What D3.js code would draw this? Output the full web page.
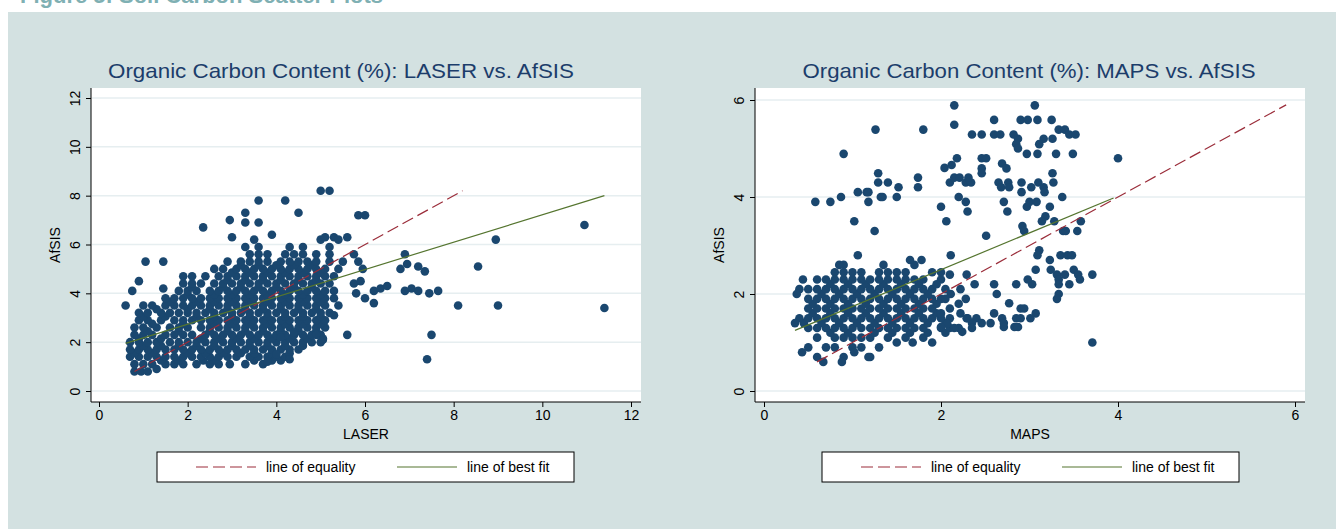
<!DOCTYPE html><html><head><meta charset="utf-8">
<script src="https://cdn.jsdelivr.net/npm/d3@7"></script>
<style>body{margin:0;background:#fff}svg{display:block;font-family:"Liberation Sans",Arial,sans-serif}</style></head><body>
<svg id="c" width="1336" height="529"></svg>
<script>
// ---- data ----
const leftTitle = "Organic Carbon Content (%): LASER vs. AfSIS";
const rightTitle = "Organic Carbon Content (%): MAPS vs. AfSIS";
const leftXTicks = [0,2,4,6,8,10,12];
const leftYTicks = [0,2,4,6,8,10,12];
const rightXTicks = [0,2,4,6];
const rightYTicks = [0,2,4,6];
// dense cluster rows: [AfSIS value, LASER values]
const leftRows = [
 [0.8,[0.8,0.95,1.1]],
 [1.1,[0.8,1.0,1.2,1.5,1.7,1.9,2.2,2.5,2.7,2.95,3.3,3.7]],
 [1.25,[1.4,1.8,2.35,2.6,3.5,3.9,4.1]],
 [1.4,[0.7,0.9,1.1,1.3,1.5,1.7,1.9,2.1,2.3,2.5,2.7,2.9,3.1,3.4,3.6,3.8,4.0,4.2]],
 [1.55,[0.8,1.2,2.0,2.4,2.8,3.2,3.5,3.9,4.3]],
 [1.7,[0.7,0.9,1.1,1.3,1.5,1.7,1.9,2.1,2.3,2.5,2.7,2.9,3.1,3.3,3.5,3.7,3.9,4.1,4.3,4.5]],
 [1.85,[1.0,1.4,1.8,2.2,2.6,3.0,3.4,3.8,4.2,4.6]],
 [2.0,[0.7,0.9,1.1,1.3,1.6,1.8,2.0,2.2,2.4,2.6,2.8,3.0,3.2,3.4,3.6,3.8,4.0,4.2,4.4,4.6,4.8,5.0]],
 [2.15,[0.9,1.4,2.3,2.7,3.1,3.5,3.9,4.3,4.7,5.05]],
 [2.3,[0.8,1.0,1.2,1.5,1.7,1.9,2.1,2.4,2.6,2.8,3.0,3.2,3.4,3.6,3.8,4.0,4.2,4.4,4.6,4.8,5.0]],
 [2.45,[1.1,1.8,2.5,2.9,3.3,3.7,4.1,4.5,4.9]],
 [2.6,[0.8,1.0,1.3,1.6,1.8,2.0,2.3,2.5,2.7,2.9,3.1,3.3,3.5,3.7,3.9,4.1,4.3,4.5,4.7,4.9,5.1]],
 [2.75,[1.2,1.9,2.6,3.0,3.4,3.8,4.2,4.6,5.0]],
 [2.9,[0.9,1.1,1.4,1.7,1.9,2.1,2.3,2.5,2.7,2.9,3.1,3.3,3.5,3.7,3.9,4.1,4.3,4.5,4.7,4.9,5.1]],
 [3.05,[1.0,1.5,2.2,2.6,3.0,3.4,3.8,4.2,4.6,5.0]],
 [3.2,[0.9,1.1,1.4,1.6,1.8,2.0,2.2,2.4,2.6,2.8,3.0,3.2,3.4,3.6,3.8,4.0,4.2,4.4,4.6,4.8,5.0,5.2]],
 [3.35,[1.3,2.0,2.5,2.9,3.3,3.7,4.1,4.5,4.9]],
 [3.5,[1.0,1.2,1.5,1.7,1.9,2.1,2.3,2.5,2.7,2.9,3.1,3.3,3.5,3.7,3.9,4.1,4.3,4.5,4.7,4.9,5.1,5.4]],
 [3.65,[1.6,2.2,2.6,3.0,3.4,3.8,4.2,4.6,5.0]],
 [3.8,[1.5,1.7,1.9,2.1,2.3,2.5,2.7,2.9,3.1,3.3,3.5,3.7,3.9,4.1,4.3,4.5,4.7,4.9,5.1,5.3]],
 [3.95,[2.0,2.6,3.0,3.4,3.8,4.2,4.6,5.0]],
 [4.1,[1.8,2.0,2.2,2.5,2.7,2.9,3.1,3.3,3.5,3.7,3.9,4.1,4.3,4.5,4.7,4.9,5.1,5.3]],
 [4.25,[2.1,2.8,3.2,3.6,4.0,4.4,4.8]],
 [4.4,[1.9,2.1,2.3,2.6,2.8,3.0,3.2,3.4,3.6,3.8,4.0,4.2,4.4,4.6,4.8,5.0,5.2]],
 [4.55,[2.9,3.3,3.7,4.1,4.5,4.9]],
 [4.7,[1.9,2.1,2.4,2.7,2.9,3.1,3.3,3.5,3.7,3.9,4.1,4.3,4.5,4.7,4.9,5.1,5.3]],
 [4.85,[3.0,3.4,3.8,4.2,4.6,5.0]],
 [5.0,[2.6,2.8,3.1,3.3,3.5,3.7,3.9,4.1,4.3,4.5,4.7,4.9,5.1,5.4]],
 [5.15,[3.2,3.6,4.0,4.4,4.8]],
 [5.3,[2.9,3.2,3.4,3.6,3.8,4.1,4.3,4.5,4.7,4.9,5.2,5.5]],
 [5.6,[3.4,3.6,3.8,4.2,4.4,4.6,4.9,5.2]],
 [5.9,[3.3,3.6,4.3,4.6,5.2]]
];
const leftOutliers = [[0.6,3.5],[0.75,4.1],[0.9,4.5],[1.05,5.3],[1.45,5.3],[1.45,4.2],[2.35,6.7],[2.95,7.0],[3.0,6.3],[3.3,7.3],[3.3,6.9],[3.6,7.8],[3.6,6.9],[3.5,6.2],[3.9,6.4],[4.2,7.8],[4.5,7.3],[5.0,8.2],[5.2,8.2],[5.85,7.2],[6.0,7.2],[5.0,6.2],[5.1,6.3],[5.3,6.3],[5.6,6.3],[5.4,6.2],[5.75,5.6],[5.85,5.3],[5.95,5.0],[5.75,4.4],[5.9,4.5],[5.8,4.0],[6.0,3.8],[6.2,3.6],[6.2,4.1],[6.35,4.2],[6.5,4.3],[5.6,2.3],[5.3,3.1],[6.9,5.6],[6.95,5.2],[6.8,5.0],[7.2,5.1],[7.35,4.9],[6.9,4.1],[7.05,4.2],[7.2,4.1],[7.45,4.0],[7.65,4.1],[7.4,1.3],[7.5,2.3],[8.1,3.5],[8.55,5.1],[8.95,6.2],[9.0,3.5],[10.95,6.8],[11.4,3.4],[4.3,1.3],[1.3,0.9],[4.4,2.4],[4.9,2.3],[5.05,2.1],[4.1,2.2],[3.8,1.2],[4.0,1.5]];
const leftEquality = [[0.8,0.8],[8.2,8.2]];
const leftBestFit = [[0.6,1.95],[11.4,8.0]];
// dense cluster rows: [AfSIS value, MAPS values]
const rightRows = [
 [0.7,[0.6,0.9,1.2]],
 [0.9,[0.5,0.7,0.8,1.0,1.1,1.3]],
 [1.1,[0.6,0.8,0.9,1.0,1.1,1.2,1.4,1.6,1.8]],
 [1.2,[0.75,0.95,1.25,1.45,1.65,1.85,2.05]],
 [1.3,[0.5,0.6,0.7,0.8,0.9,1.0,1.1,1.2,1.3,1.4,1.5,1.6,1.7,1.8,2.0,2.1,2.2]],
 [1.4,[0.45,0.65,0.85,1.05,1.25,1.45,1.65,1.85,2.05]],
 [1.5,[0.4,0.5,0.6,0.7,0.8,0.9,1.0,1.1,1.2,1.3,1.4,1.5,1.6,1.7,1.8,1.9,2.0,2.1,2.3,2.4]],
 [1.6,[0.55,0.75,0.95,1.15,1.35,1.55,1.75,1.95]],
 [1.7,[0.5,0.6,0.7,0.8,0.9,1.0,1.1,1.2,1.3,1.4,1.5,1.6,1.7,1.8,1.9,2.1]],
 [1.8,[0.55,0.75,0.95,1.15,1.35,1.55,1.75,1.95]],
 [1.9,[0.5,0.6,0.7,0.8,0.9,1.0,1.1,1.2,1.3,1.4,1.5,1.6,1.7,1.8,1.9,2.0]],
 [2.0,[0.65,0.85,1.05,1.25,1.45,1.65,1.85]],
 [2.1,[0.4,0.5,0.6,0.7,0.8,0.9,1.0,1.1,1.2,1.3,1.4,1.5,1.6,1.7,1.8,1.9]],
 [2.2,[0.75,0.95,1.15,1.35,1.55,1.75]],
 [2.3,[0.6,0.7,0.8,0.9,1.0,1.1,1.2,1.3,1.4,1.5,1.6,1.7,1.8,2.0]],
 [2.45,[0.8,0.9,1.0,1.1,1.3,1.4,1.5,1.6,1.9]],
 [2.6,[0.85,0.9,1.35,1.7]]
];
const rightOutliers = [[2.15,5.89],[3.06,5.89],[1.26,5.39],[1.80,5.39],[2.15,5.49],[2.60,5.59],[2.90,5.59],[2.98,5.59],[3.09,5.59],[3.25,5.59],[2.35,5.29],[2.46,5.29],[2.60,5.29],[2.67,5.29],[2.82,5.29],[2.87,5.2],[2.85,5.09],[2.87,5.0],[2.97,4.89],[3.09,4.89],[3.30,4.89],[3.49,4.89],[3.16,5.2],[3.26,5.2],[3.33,5.39],[3.40,5.39],[3.45,5.29],[3.52,5.29],[3.11,5.09],[0.9,4.89],[4.0,4.8],
 [2.04,4.6],[2.12,4.66],[2.18,4.8],[2.46,4.8],[2.51,4.8],[2.46,4.59],[2.46,4.49],[2.69,4.69],[2.74,4.59],[2.10,4.3],[2.15,4.4],[2.21,4.4],[2.28,4.3],[2.34,4.3],[2.31,4.4],[2.65,4.3],[2.68,4.2],[2.76,4.3],[2.77,4.2],[2.91,4.3],[3.02,4.2],[3.1,4.3],[3.16,4.2],[3.17,4.1],[3.26,4.49],[3.27,4.3],[1.29,4.49],[1.29,4.3],[1.40,4.3],[1.52,4.2],[1.74,4.4],[1.74,4.2],[1.06,4.1],[1.16,4.1],[1.18,4.1],[1.18,3.9],[1.32,4.0],[1.34,4.0],[1.50,4.0],[0.87,4.0],[0.75,3.9],[0.58,3.9],[1.02,3.5],[1.25,3.3],[2.0,3.8],[2.06,3.5],[2.20,4.0],[2.28,3.9],[2.3,3.7],[2.51,3.2],[2.71,3.9],[2.75,3.7],[2.91,4.1],[2.97,3.8],[3.0,3.9],[3.08,3.9],[3.23,3.8],[3.37,4.0],[3.18,3.6],[3.14,3.5],[3.28,3.5],[2.92,3.4],[2.94,3.3],[3.38,3.3],[3.41,3.3],[3.54,3.3],[3.58,3.5],
 [3.11,2.9],[3.09,2.8],[3.23,2.7],[3.35,2.8],[3.43,2.8],[3.48,2.8],[3.07,2.5],[3.24,2.5],[3.5,2.5],[3.55,2.4],[3.71,2.4],[3.31,2.4],[3.33,2.3],[3.40,2.4],[3.57,2.3],[3.33,2.2],[3.45,2.2],[3.03,2.2],[2.98,2.3],[3.33,2.0],[3.31,1.9],[3.71,1.0],[2.85,2.2],[2.77,1.81],[2.90,1.7],[2.94,1.7],[3.07,1.6],[3.01,1.5],[2.85,1.5],[2.90,1.5],[2.83,1.32],[2.87,1.32],[2.6,2.2],[2.63,2.0],[2.6,1.6],[2.69,1.5],[2.71,1.4],[2.71,1.32],[2.56,1.4],[2.46,1.4],[2.35,1.4],[2.35,1.3],[2.29,1.5],[2.28,1.9],[2.20,1.8],[2.22,1.6],[2.22,2.1],[2.38,2.2],[2.29,2.4],[2.11,2.8],[2.11,2.0],[2.24,1.22],[2.15,1.3],[2.07,1.39],[2.0,1.32],[1.90,1.0],[1.68,1.0],[1.5,1.0],[1.18,0.7],[1.02,0.8],[0.88,0.6],[0.67,0.6],[0.43,0.8],[0.35,1.4],[0.37,2.0],[0.44,2.3],[1.65,2.7],[1.78,2.7],[1.06,2.8],[2.1,2.4],[2.0,2.45],[1.95,2.2],[2.05,2.1],[2.05,1.9],[2.0,1.6]];
const rightEquality = [[0.6,0.6],[5.9,5.9]];
const rightBestFit = [[0.35,1.25],[3.95,3.98]];
const legendLabels = ["line of equality","line of best fit"];

// ---- drawing ----
const svg = d3.select("#c");
const dotC = "#1a476f", eqC = "#9b2d3a", fitC = "#55752f", txtC = "#1c3d6b";
svg.append("rect").attr("width",1336).attr("height",529).attr("fill","#fff");
svg.append("rect").attr("x",8).attr("y",12).attr("width",1328).attr("height",517).attr("fill","#d3e1e1");
svg.append("text").attr("x",20).attr("y",3).attr("font-size",22).attr("font-weight","bold").attr("fill","#7fb0b3").text("Figure 5: Soil Carbon Scatter Plots");

function panel(o){
  const x = d3.scaleLinear().domain([0,o.xmax]).range([o.x0,o.x1]);
  const y = d3.scaleLinear().domain([0,o.ymax]).range([391,o.ytop]);
  const g = svg.append("g");
  g.append("rect").attr("x",o.px0).attr("y",88).attr("width",o.px1-o.px0).attr("height",402-88).attr("fill","#fff");
  g.selectAll(".gl").data(o.yt).join("line").attr("x1",o.px0+1).attr("x2",o.px1).attr("y1",d=>y(d)).attr("y2",d=>y(d)).attr("stroke","#e6eef0").attr("stroke-width",1.5);
  const pts = [];
  o.rows.forEach(r=>r[1].forEach(v=>pts.push([v,r[0]])));
  o.out.forEach(p=>pts.push(p));
  g.selectAll("circle").data(pts).join("circle").attr("cx",d=>x(d[0])).attr("cy",d=>y(d[1])).attr("r",4.3).attr("fill",dotC);
  const ln = d3.line().x(d=>x(d[0])).y(d=>y(d[1]));
  g.append("path").attr("d",ln(o.eq)).attr("stroke",eqC).attr("stroke-width",1.2).attr("stroke-dasharray","12,5").attr("fill","none");
  g.append("path").attr("d",ln(o.fit)).attr("stroke",fitC).attr("stroke-width",1.2).attr("fill","none");
  const fmt = d3.format("d");
  const xa = g.append("g").attr("transform","translate(0,402)").call(d3.axisBottom(x).tickValues(o.xt).tickFormat(fmt).tickSize(5).tickPadding(3));
  const ya = g.append("g").attr("transform",`translate(${o.px0},0)`).call(d3.axisLeft(y).tickValues(o.yt).tickFormat(fmt).tickSize(5).tickPadding(4));
  [xa,ya].forEach(a=>{a.select(".domain").attr("d", null);a.selectAll("text").attr("font-size",14).attr("fill","#000").attr("font-family","Liberation Sans, Arial");a.selectAll("line").attr("stroke","#000");});
  xa.append("line").attr("x1",o.px0).attr("x2",o.px1).attr("stroke","#000");
  ya.append("line").attr("y1",88).attr("y2",402).attr("stroke","#000");
  ya.selectAll(".tick text").attr("transform","rotate(-90)").attr("x",0).attr("dy",0).attr("y",-11).attr("text-anchor","middle");
  g.append("text").attr("x",(o.px0+o.px1)/2).attr("y",439).attr("text-anchor","middle").attr("font-size",14).text(o.xl);
  g.append("text").attr("transform",`translate(${o.px0-31},245) rotate(-90)`).attr("text-anchor","middle").attr("font-size",14).text("AfSIS");
  g.append("text").attr("x",o.tx).attr("y",78).attr("text-anchor","middle").attr("font-size",21).attr("textLength",o.tw).attr("lengthAdjust","spacingAndGlyphs").attr("fill",txtC).text(o.title);
  // legend
  g.append("rect").attr("x",o.lx).attr("y",452).attr("width",417).attr("height",30).attr("fill","#fff").attr("stroke","#000").attr("stroke-width",1);
  g.append("line").attr("x1",o.lx+39).attr("x2",o.lx+99).attr("y1",467).attr("y2",467).attr("stroke",eqC).attr("stroke-width",1.2).attr("stroke-dasharray","12,5");
  g.append("text").attr("x",o.lx+109).attr("y",472).attr("font-size",14).text(legendLabels[0]);
  g.append("line").attr("x1",o.lx+240).attr("x2",o.lx+300).attr("y1",467).attr("y2",467).attr("stroke",fitC).attr("stroke-width",1.2);
  g.append("text").attr("x",o.lx+310).attr("y",472).attr("font-size",14).text(legendLabels[1]);
}
panel({xmax:12,ymax:12,x0:99,x1:631,ytop:98,px0:91,px1:641,rows:leftRows,out:leftOutliers,eq:leftEquality,fit:leftBestFit,xt:leftXTicks,yt:leftYTicks,xl:"LASER",title:leftTitle,tx:341,tw:466,lx:157});
panel({xmax:6,ymax:6,x0:764,x1:1295,ytop:100,px0:755,px1:1305,rows:rightRows,out:rightOutliers,eq:rightEquality,fit:rightBestFit,xt:rightXTicks,yt:rightYTicks,xl:"MAPS",title:rightTitle,tx:1029,tw:453,lx:822});
</script></body></html>
